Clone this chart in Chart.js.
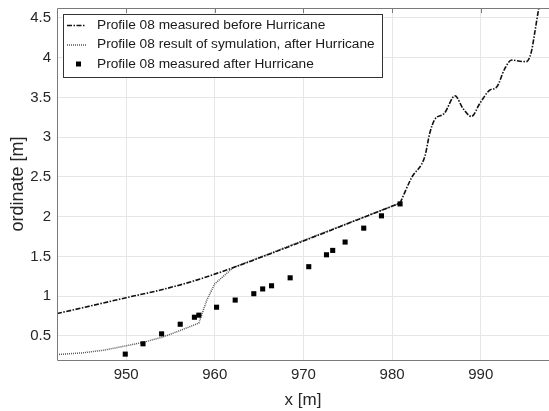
<!DOCTYPE html>
<html>
<head>
<meta charset="utf-8">
<script src="https://cdn.jsdelivr.net/npm/chart.js@4/dist/chart.umd.min.js"></script>
<style>
  html, body { margin: 0; padding: 0; background: #fff; }
  #wrap { width: 549px; height: 411px; }
</style>
</head>
<body>
<div id="wrap"><canvas id="profileChart" width="549" height="411"></canvas></div>
<script>
// profile before hurricane, lower straight-ish part (x, ordinate)
const beforeLowX = [942.2, 947.1, 950.0, 954.0, 957.6, 962.1, 980.9];
const beforeLowY = [0.78, 0.905, 0.98, 1.08, 1.19, 1.36, 2.17];

// profile before hurricane, dune part above the corner at ~981 m
const beforeUpX = [980.9, 982.2, 983.7, 984.25, 984.8, 985.9, 987.1, 988.0, 988.95, 989.9, 991.0, 991.8, 992.7, 993.5, 994.4, 995.15, 995.7, 996.1, 996.5, 997.0];
const beforeUpY = [2.17, 2.49, 2.76, 3.05, 3.22, 3.30, 3.52, 3.36, 3.26, 3.425, 3.59, 3.63, 3.86, 3.97, 3.955, 3.95, 4.07, 4.32, 4.59, 4.85];

// simulation result after hurricane
const simX = [942.2, 945.0, 947.5, 950.0, 952.0, 954.0, 955.7, 958.2, 959.1, 960.0, 962.1, 980.9];
const simY = [0.265, 0.285, 0.32, 0.375, 0.42, 0.48, 0.55, 0.66, 0.95, 1.155, 1.36, 2.17];

// measured after hurricane
const afterX = [949.9, 951.9, 954.0, 956.1, 957.7, 958.2, 960.2, 962.3, 964.4, 965.4, 966.4, 968.5, 970.6, 972.6, 973.3, 974.7, 976.8, 978.8, 980.9];
const afterY = [0.27, 0.40, 0.525, 0.646, 0.734, 0.76, 0.86, 0.95, 1.03, 1.09, 1.13, 1.23, 1.37, 1.52, 1.575, 1.68, 1.855, 2.01, 2.16];

const xTicks = [950, 960, 970, 980, 990];
const yTicks = [0.5, 1, 1.5, 2, 2.5, 3, 3.5, 4, 4.5];

const seriesLabels = [
  'Profile 08 measured before Hurricane',
  'Profile 08 result of symulation, after Hurricane',
  'Profile 08 measured after Hurricane'
];

function toPoints(xs, ys) {
  return xs.map((x, i) => ({ x: x, y: ys[i] }));
}

const FONT = '"Liberation Sans", Arial, Helvetica, sans-serif';

// left, bottom and top frame lines (right side is cut off in the original)
const boxPlugin = {
  id: 'boxPlugin',
  afterDraw(chart) {
    const a = chart.chartArea;
    const ctx = chart.ctx;
    ctx.save();
    ctx.strokeStyle = '#7a7a7a';
    ctx.lineWidth = 1;
    ctx.beginPath();
    ctx.moveTo(a.right, a.top + 0.5);
    ctx.lineTo(a.left + 0.5, a.top + 0.5);
    ctx.lineTo(a.left + 0.5, a.bottom + 0.5);
    ctx.lineTo(a.right, a.bottom + 0.5);
    ctx.stroke();
    // tick marks on top edge
    const xs = chart.scales.x;
    xTicks.forEach(v => {
      const px = Math.round(xs.getPixelForValue(v)) + 0.5;
      ctx.beginPath();
      ctx.moveTo(px, a.top);
      ctx.lineTo(px, a.top + 5);
      ctx.stroke();
    });
    ctx.restore();
  }
};

// legend drawn inside the plot area with a frame
const boxLegend = {
  id: 'boxLegend',
  afterDraw(chart) {
    const ctx = chart.ctx;
    const a = chart.chartArea;
    const left = a.left + 6, top = a.top + 6, w = 319, h = 63;
    ctx.save();
    ctx.fillStyle = '#fff';
    ctx.fillRect(left, top, w, h);
    ctx.strokeStyle = '#333';
    ctx.lineWidth = 1;
    ctx.strokeRect(left + 0.5, top + 0.5, w, h);
    ctx.font = '13.7px ' + FONT;
    ctx.textBaseline = 'middle';
    let row = 0;
    chart.data.datasets.forEach(ds => {
      if (!ds.label) return;
      const cy = top + 11 + row * 19.5;
      row++;
      if (ds.showLine === false) {
        ctx.fillStyle = '#000';
        ctx.fillRect(left + 13, cy - 2.5, 5, 5);
      } else {
        ctx.strokeStyle = ds.borderColor;
        ctx.lineWidth = ds.borderWidth;
        ctx.setLineDash(ds.borderDash || []);
        ctx.beginPath();
        ctx.moveTo(left + 4, cy + 0.5);
        ctx.lineTo(left + 23, cy + 0.5);
        ctx.stroke();
        ctx.setLineDash([]);
      }
      ctx.fillStyle = '#1a1a1a';
      ctx.fillText(ds.label, left + 34, cy);
    });
    ctx.restore();
  }
};

const beforeStyle = {
  showLine: true,
  borderColor: '#111',
  borderWidth: 1.6,
  borderDash: [5, 1.5, 1.5, 1.5],
  cubicInterpolationMode: 'monotone',
  pointRadius: 0,
  order: 2
};

new Chart(document.getElementById('profileChart').getContext('2d'), {
  type: 'scatter',
  data: {
    datasets: [
      Object.assign({ label: seriesLabels[0], data: toPoints(beforeLowX, beforeLowY) }, beforeStyle),
      {
        label: seriesLabels[1],
        data: toPoints(simX, simY),
        showLine: true,
        borderColor: '#555',
        borderWidth: 1.5,
        borderDash: [1, 1],
        tension: 0,
        pointRadius: 0,
        order: 3
      },
      {
        label: seriesLabels[2],
        data: toPoints(afterX, afterY),
        showLine: false,
        pointStyle: 'rect',
        pointRadius: 3.6,
        backgroundColor: '#000',
        borderColor: '#000',
        borderWidth: 0,
        order: 1
      },
      Object.assign({ label: '', data: toPoints(beforeUpX, beforeUpY) }, beforeStyle)
    ]
  },
  options: {
    responsive: false,
    animation: false,
    layout: { autoPadding: false, padding: { top: 8, right: 0, left: 0, bottom: 0 } },
    plugins: {
      legend: { display: false },
      tooltip: { enabled: false }
    },
    scales: {
      x: {
        type: 'linear',
        min: 942.2,
        max: 997.7,
        afterBuildTicks: s => { s.ticks = xTicks.map(v => ({ value: v })); },
        afterFit: s => { s.height = 51; s.paddingLeft = 0; s.paddingRight = 0; },
        ticks: {
          color: '#262626',
          font: { family: FONT, size: 15 },
          padding: 6,
          callback: v => String(v)
        },
        grid: { color: '#e6e6e6', drawTicks: false },
        border: { display: false },
        title: {
          display: true,
          text: 'x [m]',
          color: '#262626',
          font: { family: FONT, size: 17 },
          padding: { top: 0, bottom: 0 }
        }
      },
      y: {
        type: 'linear',
        min: 0.196,
        max: 4.625,
        afterBuildTicks: s => { s.ticks = yTicks.map(v => ({ value: v })); },
        afterFit: s => { s.width = 57; s.paddingTop = 0; s.paddingBottom = 0; },
        ticks: {
          color: '#262626',
          font: { family: FONT, size: 15 },
          padding: 6,
          callback: v => String(v)
        },
        grid: { color: '#e6e6e6', drawTicks: false },
        border: { display: false },
        title: {
          display: true,
          text: 'ordinate [m]',
          color: '#262626',
          font: { family: FONT, size: 18 },
          padding: { top: 7, bottom: 0 }
        }
      }
    }
  },
  plugins: [boxPlugin, boxLegend]
});
</script>
</body>
</html>
